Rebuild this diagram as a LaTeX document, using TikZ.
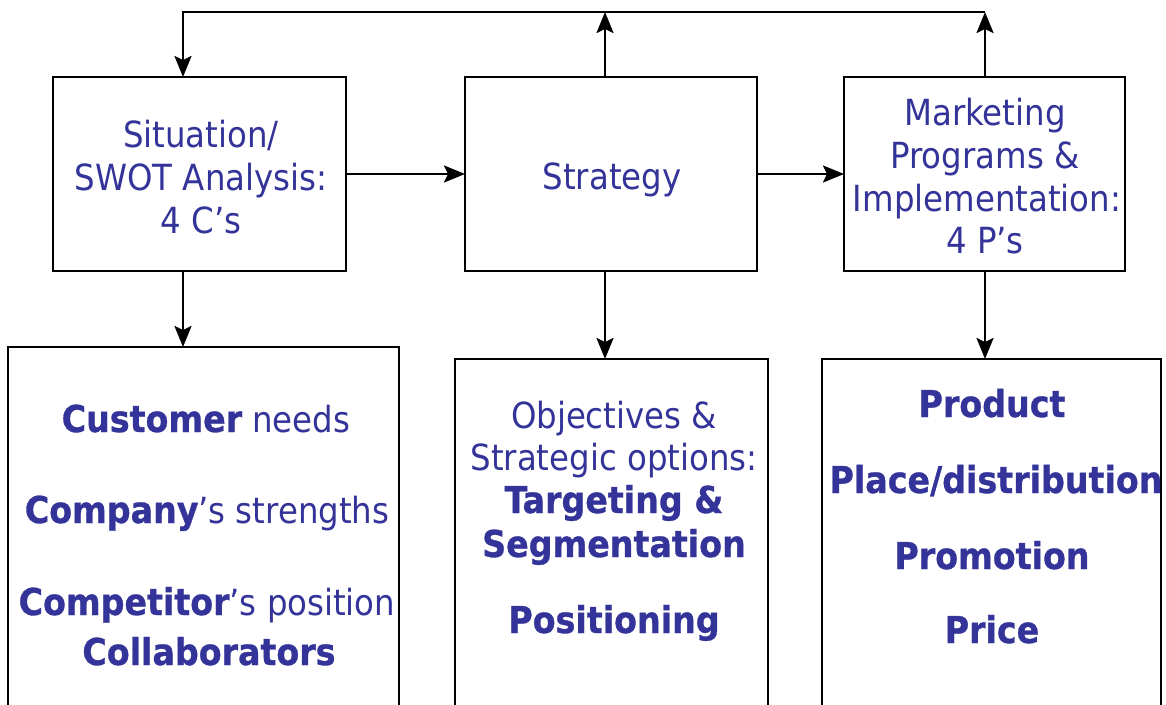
\documentclass[tikz,border=0pt]{standalone}
\usepackage{fontspec}
\setmainfont{DejaVu Sans Condensed}[BoldFeatures={FakeBold=0.8}]
\usetikzlibrary{arrows.meta}

\definecolor{ink}{RGB}{51,51,153}

\tikzset{
  box/.style={draw, line width=2.4pt, inner sep=0pt, outer sep=0pt},
  txt/.style={anchor=base, text=ink, inner sep=0pt, font=\fontsize{36}{43}\selectfont},
  bold/.style={anchor=base, text=ink, inner sep=0pt, font=\fontsize{37}{44}\selectfont\bfseries},
  arr/.style={line width=2.4pt, -{Stealth[length=21pt,width=17pt,inset=4pt]}}
}
\newcommand{\bw}[1]{{\bfseries\fontsize{37}{44}\selectfont #1}}

\begin{document}
\begin{tikzpicture}[x=1pt,y=-1pt]
  \useasboundingbox (0,0) rectangle (1166,704);
  \clip (0,0) rectangle (1166,704);

  % upper row
  \node[box, minimum width=293pt, minimum height=194pt] (sit) at (199.5,174) {};
  \node[box, minimum width=292pt, minimum height=194pt] (strat) at (611,174) {};
  \node[box, minimum width=281pt, minimum height=194pt] (mkt) at (984.5,174) {};

  \node[txt] (sit1) at (201,147) {Situation/};
  \node[txt] (sit2) at (201,190) {SWOT Analysis:};
  \node[txt] (sit3) at (201,233) {4 C’s};
  \node[txt] (strat1) at (612,189) {Strategy};
  \node[txt] (mkt1) at (985,125) {Marketing};
  \node[txt] (mkt2) at (985,168) {Programs \&};
  \node[txt] (mkt3) at (987,211) {Implementation:};
  \node[txt] (mkt4) at (985,253) {4 P’s};

  % lower row, cut off by the page edge
  \node[box, anchor=north, minimum width=391pt, minimum height=400pt] (cs) at (203.5,347) {};
  \node[box, anchor=north, minimum width=313pt, minimum height=400pt] (opt) at (611.5,359) {};
  \node[box, anchor=north, minimum width=339pt, minimum height=400pt] (ps) at (991.5,359) {};

  \node[txt] (cs1) at (206,432) {\bw{Customer} needs};
  \node[txt] (cs2) at (207,523) {\bw{Company}’s strengths};
  \node[txt] (cs3) at (207,615) {\bw{Competitor}’s position};
  \node[bold] (cs4) at (209,665) {Collaborators};

  \node[txt] (opt1) at (614,428) {Objectives \&};
  \node[txt] (opt2) at (614,470) {Strategic options:};
  \node[bold] (opt3) at (614,513) {Targeting \&};
  \node[bold] (opt4) at (614,557) {Segmentation};
  \node[bold] (opt5) at (614,633) {Positioning};

  \node[bold] (ps1) at (992,417) {Product};
  \node[bold] (ps2) at (996,493) {Place/distribution};
  \node[bold] (ps3) at (992,569) {Promotion};
  \node[bold] (ps4) at (992,643) {Price};

  % feedback loop along the top
  \coordinate (loopL) at (183,12);
  \coordinate (loopM) at (605,12);
  \coordinate (loopR) at (985,12);
  \draw[arr] (strat.north -| loopM) -- (loopM);
  \draw[arr] (mkt.north -| loopR) -- (loopR);
  \draw[arr] (loopR) -- (loopL) -- (sit.north -| loopL);

  % flow between the boxes
  \draw[arr] (sit.east) -- (strat.west);
  \draw[arr] (strat.east) -- (mkt.west);
  \draw[arr] (sit.south -| loopL) -- (cs.north -| loopL);
  \draw[arr] (strat.south -| loopM) -- (opt.north -| loopM);
  \draw[arr] (mkt.south -| loopR) -- (ps.north -| loopR);
\end{tikzpicture}
\end{document}
